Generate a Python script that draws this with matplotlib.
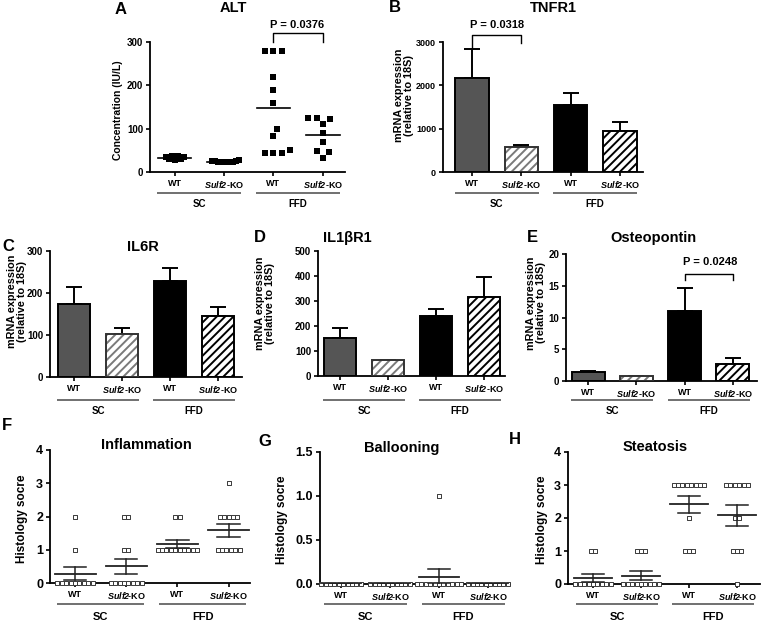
#liver injury / inflammation panels, SC vs FFD, WT vs Sulf2-KO
import numpy as np
import matplotlib
matplotlib.use('Agg')
import matplotlib.pyplot as plt
import matplotlib.transforms as mtransforms

plt.rcParams['font.family'] = ['Liberation Sans', 'DejaVu Sans']
plt.rcParams['font.weight'] = 'bold'
plt.rcParams['mathtext.fontset'] = 'custom'
plt.rcParams['mathtext.it'] = 'Liberation Sans:italic'
plt.rcParams['mathtext.rm'] = 'Liberation Sans:italic'
plt.rcParams['mathtext.bfit'] = 'Liberation Sans:italic:bold'
plt.rcParams['hatch.linewidth'] = 1.4

#---- data ----
groups = ['SC', 'FFD']
xlabels_top = ['WT', r'$\mathit{Sulf2}$-KO', 'WT', r'$\mathit{Sulf2}$-KO']
xlabels_hist = ['WT', r'$\mathbfit{Sulf2}\!$-KO', 'WT', r'$\mathbfit{Sulf2}\!$-KO']

# A: ALT per mouse (IU/L), order SC-WT, SC-KO, FFD-WT, FFD-KO
alt_sc_wt = [38, 36, 34, 31, 29, 28, 29, 31, 34, 37]
alt_sc_ko = [26, 24, 23, 22, 22, 23, 24, 25, 26, 27]
alt_ffd_wt = [280, 280, 280, 220, 190, 160, 100, 82, 50, 45, 45, 45]
alt_ffd_ko = [125, 122, 124, 110, 90, 70, 48, 47, 33]

# B-E: mRNA expression (relative to 18S), mean and SEM
tnfr1_mean = [2170, 577, 1546, 946]
tnfr1_sem = [680, 43, 274, 214]
il6r_mean = [174, 102, 229, 145]
il6r_sem = [40, 15, 30, 22]
il1br1_mean = [152, 64, 240, 316]
il1br1_sem = [40, 2, 28, 80]
opn_mean = [1.35, 0.8, 11.05, 2.75]
opn_sem = [0.3, 0.05, 3.55, 0.8]

# F-H: histology scores per mouse
infl_sc_wt = [0, 0, 0, 0, 0, 0, 0, 0, 0, 1, 2]
infl_sc_ko = [0, 0, 0, 0, 0, 0, 0, 0, 1, 1, 2, 2]
infl_ffd_wt = [1, 1, 1, 1, 1, 1, 1, 1, 1, 1, 2, 2]
infl_ffd_ko = [1, 1, 1, 1, 1, 1, 2, 2, 2, 2, 2, 3]
ball_sc_wt = [0, 0, 0, 0, 0, 0, 0, 0, 0, 0]
ball_sc_ko = [0, 0, 0, 0, 0, 0, 0, 0, 0, 0]
ball_ffd_wt = [0, 0, 0, 0, 0, 0, 0, 0, 0, 0, 0, 1]
ball_ffd_ko = [0, 0, 0, 0, 0, 0, 0, 0, 0, 0]
steat_sc_wt = [0, 0, 0, 0, 0, 0, 0, 0, 0, 1, 1]
steat_sc_ko = [0, 0, 0, 0, 0, 0, 0, 0, 0, 1, 1, 1]
steat_ffd_wt = [1, 1, 1, 2, 3, 3, 3, 3, 3, 3, 3, 3]
steat_ffd_ko = [0, 1, 1, 1, 2, 2, 3, 3, 3, 3, 3, 3]

#---- layout (pixels) ----
W, H = 762, 622
fig = plt.figure(figsize=(W / 100, H / 100), dpi=100)

rects = {  # left, right, top, bottom
    'A': (150, 345, 42, 172), 'B': (443, 643, 42, 172),
    'C': (50, 242, 251, 377), 'D': (318, 505, 251, 376), 'E': (566, 757, 254, 381),
    'F': (50, 250, 450, 583), 'G': (320, 510, 452, 584), 'H': (568, 760, 452, 584),
}
xlims = {'A': (-0.5, 3.45), 'B': (-0.59, 3.47), 'C': (-0.5, 3.5), 'D': (-0.46, 3.44),
         'E': (-0.46, 3.5), 'F': (-0.49, 3.42), 'G': (-0.43, 3.45), 'H': (-0.52, 3.48)}


def fx(px):
    return px / W


def fy(py):
    return 1 - py / H


def make_ax(key, ymax, yticks, ytl, xtl, ytick_fs, xtick_fs, ylabel, ylab_xy, ylab_fs):
    l, r, t, b = rects[key]
    ax = fig.add_axes([fx(l), fy(b), (r - l) / W, (b - t) / H])
    ax.set_xlim(*xlims[key])
    ax.set_ylim(0, ymax)
    for s in ['top', 'right']:
        ax.spines[s].set_visible(False)
    for s in ['left', 'bottom']:
        ax.spines[s].set_linewidth(1.3)
    ax.set_yticks(yticks)
    ax.set_yticklabels(ytl, fontsize=ytick_fs, fontweight='bold')
    ax.set_xticks(range(4))
    ax.set_xticklabels(xtl, fontsize=xtick_fs, fontweight='bold')
    ax.tick_params(axis='both', direction='out', length=3, width=1.2, pad=2)
    ax.set_ylabel(ylabel, fontsize=ylab_fs, fontweight='bold', linespacing=0.95,
                  va='center', ha='center')
    ax.yaxis.set_label_coords((ylab_xy[0] - l) / (r - l), (b - ylab_xy[1]) / (b - t))
    return ax


def group_marks(ax, key, line_y, text_y, fs):
    b = rects[key][3]
    base = mtransforms.blended_transform_factory(ax.transData, ax.transAxes)
    lt = base + mtransforms.ScaledTranslation(0, -(line_y - b) / 100, fig.dpi_scale_trans)
    tt = base + mtransforms.ScaledTranslation(0, -(text_y - b) / 100, fig.dpi_scale_trans)
    for i, g in enumerate(groups):
        ax.plot([2 * i - 0.35, 2 * i + 1.35], [0, 0], transform=lt, color='#707070',
                lw=1.4, clip_on=False, solid_capstyle='butt')
        ax.text(2 * i + 0.5, 0, g, transform=tt, ha='center', va='center',
                fontsize=fs, fontweight='bold')


def px_scale(key, ymax):
    l, r, t, b = rects[key]
    x0, x1 = xlims[key]
    return (r - l) / (x1 - x0), (b - t) / ymax


def swarm(vals, xpx, ypx, d):
    # greedy beeswarm: lowest values first, closest free slot to the centre
    vals = np.asarray(vals, float)
    cands = [0.0]
    for k in range(1, 200):
        cands += [k * 0.5, -k * 0.5]
    placed = []
    off = np.zeros(len(vals))
    for i in np.argsort(vals):
        y = vals[i] * ypx
        for c in cands:
            if all((c - px) ** 2 + (y - py) ** 2 >= d * d for px, py in placed):
                break
        placed.append((c, y))
        off[i] = c / xpx
    return off


def rows(vals, xpx, step):
    vals = np.asarray(vals, float)
    off = np.zeros(len(vals))
    for v in np.unique(vals):
        idx = np.where(vals == v)[0]
        n = len(idx)
        off[idx] = (np.arange(n) - (n - 1) / 2) * step / xpx
    return off


def bracket(ax, x0, x1, ytop, y0, y1):
    ax.plot([x0, x0, x1, x1], [y0, ytop, ytop, y1], color='k', lw=1.0, clip_on=False)


bar_styles = [('#555555', '', '#555555', 'k'), ('white', '////', '#7a7a7a', '#333333'),
              ('black', '', 'k', 'k'), ('white', '////', 'k', 'k')]


def bar_panel(ax, means, sems):
    x = np.arange(4)
    ax.errorbar(x, means, yerr=[np.zeros(4), sems], fmt='none', ecolor='k',
                elinewidth=1.4, capsize=5.5, capthick=1.4, zorder=1)
    for i in range(4):
        face, hatch, hcol, edge = bar_styles[i]
        ax.bar(x[i], means[i], width=0.68, color=face, edgecolor=hcol, hatch=hatch,
               lw=0, zorder=2)
        ax.bar(x[i], means[i], width=0.68, fill=False, edgecolor=edge, lw=1.4, zorder=3)


mrna_label = 'mRNA expression\n(relative to 18S)'

#---- A: ALT ----
axA = make_ax('A', 300, [0, 100, 200, 300], ['0', '100', '200', '300'], xlabels_top,
              7, 6.5, 'Concentration (IU/L)', (118, 110), 7.5)
xpx, ypx = px_scale('A', 300)
alt_spacing = [3.0, 3.0, 8.5, 8.5]
for i, v in enumerate([alt_sc_wt, alt_sc_ko, alt_ffd_wt, alt_ffd_ko]):
    axA.scatter(i + swarm(v, xpx, ypx, alt_spacing[i]), v, marker='s', s=19, color='k',
                lw=0, clip_on=False, zorder=3)
    m = np.mean(v)
    axA.plot([i - 0.34, i + 0.34], [m, m], color='k', lw=1.2, zorder=4)
bracket(axA, 2, 3, 321, 300, 300)
group_marks(axA, 'A', 193, 204, 7)

#---- B: TNFR1 ----
axB = make_ax('B', 3000, [0, 1000, 2000, 3000], ['0', '1000', '2000', '3000'], xlabels_top,
              6.5, 6.5, mrna_label, (404, 95), 7.8)
bar_panel(axB, tnfr1_mean, tnfr1_sem)
bracket(axB, 0, 1, 3160, 2870, 2980)
group_marks(axB, 'B', 193, 204, 7)

#---- C: IL6R ----
axC = make_ax('C', 300, [0, 100, 200, 300], ['0', '100', '200', '300'], xlabels_top,
              7, 6.5, mrna_label, (17, 301), 7.8)
bar_panel(axC, il6r_mean, il6r_sem)
group_marks(axC, 'C', 400, 411, 7)

#---- D: IL1bR1 ----
axD = make_ax('D', 500, [0, 100, 200, 300, 400, 500], ['0', '100', '200', '300', '400', '500'],
              xlabels_top, 7, 6.5, mrna_label, (265, 303), 7.8)
bar_panel(axD, il1br1_mean, il1br1_sem)
group_marks(axD, 'D', 400, 411, 7)

#---- E: Osteopontin ----
axE = make_ax('E', 20, [0, 5, 10, 15, 20], ['0', '5', '10', '15', '20'], xlabels_top,
              7, 6.5, mrna_label, (536, 303), 7.8)
bar_panel(axE, opn_mean, opn_sem)
bracket(axE, 2, 3, 16.9, 15.9, 15.9)
group_marks(axE, 'E', 400, 411, 7)


#---- F-H: histology ----
def hist_panel(key, ymax, yticks, ytl, data, ylab_xy):
    ax = make_ax(key, ymax, yticks, ytl, xlabels_hist, 9, 6.5, 'Histology socre', ylab_xy, 8.5)
    xpx, _ = px_scale(key, ymax)
    for i, v in enumerate(data):
        v = np.asarray(v, float)
        ax.scatter(i + rows(v, xpx, 4.4), v, marker='s', s=10, facecolor='white',
                   edgecolor='#3a3a3a', lw=0.7, clip_on=False, zorder=3)
        m = v.mean()
        se = v.std(ddof=1) / np.sqrt(len(v))
        ax.plot([i - 0.4, i + 0.4], [m, m], color='#222222', lw=1.3, zorder=4)
        ax.plot([i, i], [m - se, m + se], color='#222222', lw=1.1, zorder=4)
        for e in (m - se, m + se):
            ax.plot([i - 0.22, i + 0.22], [e, e], color='#222222', lw=1.1, zorder=4)
    group_marks(ax, key, 604, 617, 8)
    return ax


hist_panel('F', 4, [0, 1, 2, 3, 4], ['0', '1', '2', '3', '4'],
           [infl_sc_wt, infl_sc_ko, infl_ffd_wt, infl_ffd_ko], (22, 519))
hist_panel('G', 1.5, [0, 0.5, 1.0, 1.5], ['0.0', '0.5', '1.0', '1.5'],
           [ball_sc_wt, ball_sc_ko, ball_ffd_wt, ball_ffd_ko], (282, 520))
hist_panel('H', 4, [0, 1, 2, 3, 4], ['0', '1', '2', '3', '4'],
           [steat_sc_wt, steat_sc_ko, steat_ffd_wt, steat_ffd_ko], (542, 520))

#---- letters, titles, p values ----
letters = [('A', 121, 9), ('B', 395, 8), ('C', 8, 247), ('D', 260, 238), ('E', 532, 238),
           ('F', 7, 425), ('G', 265, 442), ('H', 515, 440)]
titles = [('ALT', 233, 8), ('TNFR1', 553, 8), ('IL6R', 143, 247), ('IL1βR1', 347, 238),
          ('Osteopontin', 653, 238), ('Inflammation', 146, 445), ('Ballooning', 402, 448),
          ('Steatosis', 655, 447)]
pvals = [('P = 0.0376', 297, 25), ('P = 0.0318', 497, 25), ('P = 0.0248', 710, 262)]

for t, x, y in letters:
    fig.text(fx(x), fy(y), t, fontsize=12, fontweight='bold', ha='center', va='center')
for t, x, y in titles:
    fig.text(fx(x), fy(y), t, fontsize=10.5, fontweight='bold', ha='center', va='center')
for t, x, y in pvals:
    fig.text(fx(x), fy(y), t, fontsize=8, fontweight='bold', ha='center', va='center')

plt.savefig('out.png', dpi=100)
